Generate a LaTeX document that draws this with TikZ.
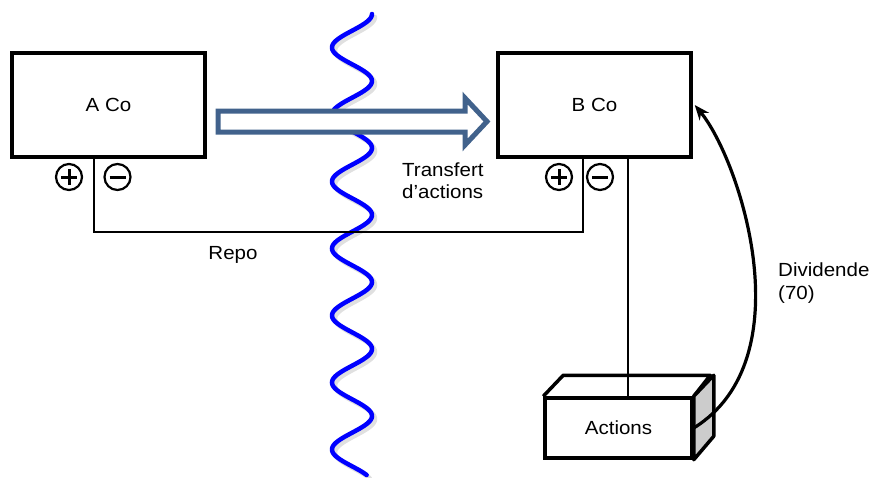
\documentclass[tikz,border=0pt]{standalone}
\usepackage{fontspec}
\setmainfont{Liberation Sans}[FakeStretch=1.08]
\usetikzlibrary{arrows.meta}
\definecolor{arrowblue}{RGB}{65,98,140}
\begin{document}
\begin{tikzpicture}[x=1pt,y=-1pt,
  font=\fontsize{19}{22}\selectfont,
  box/.style={draw, line width=3.5pt, minimum width=193pt, minimum height=104pt, inner sep=0pt},
  pm/.style={draw, circle, line width=2.2pt, minimum size=26pt, inner sep=0pt},
  sign/.style={line width=3pt},
  conn/.style={line width=2.2pt},
  lbl/.style={inner sep=0pt, anchor=base west}]
\useasboundingbox (0,0) rectangle (870,477);
% wave
\draw[black!12, line width=4.5pt, line cap=round] plot[domain=14:475, samples=300] ({355+20*cos((\x-14)/67*360)}, {\x+3});
\draw[blue, line width=4.5pt, line cap=round] plot[domain=14:475, samples=300] ({352+20*cos((\x-14)/67*360)}, \x);
% boxes
\node[box] (A) at (108.5,105) {A Co};
\node[box] (B) at (594.5,105) {B Co};
% block arrow
\draw[draw=arrowblue, line width=5pt, fill=white, miter limit=10] (218,111) -- (465,111) -- (465,98) -- (487,121.5) -- (465,145) -- (465,132) -- (218,132) -- cycle;
% plus / minus
\node[pm] (pa) at (69,177) {};
\node[pm] (ma) at (117.5,177) {};
\node[pm] (pb) at (559,177) {};
\node[pm] (mb) at (600,177) {};
\foreach \n in {pa,pb}{
  \draw[sign] ([xshift=-8pt]\n.center) -- ([xshift=8pt]\n.center);
  \draw[sign] ([yshift=-8pt]\n.center) -- ([yshift=8pt]\n.center);
}
\foreach \n in {ma,mb}{
  \draw[sign] ([xshift=-8pt]\n.center) -- ([xshift=8pt]\n.center);
}
% repo line
\draw[conn] (A.south -| 94,0) -- (94,232) -| (B.south -| 583,0);
% actions cuboid
\node[draw, line width=3.5pt, minimum width=147pt, minimum height=60pt, inner sep=0pt, fill=white] (act) at (618.5,428) {Actions};
\draw[line width=3.5pt, line join=round] (act.north west) -- ++(20,-21) -- ++(147,0) -- (act.north east);
\draw[line width=3.5pt, line join=round, fill=black!20] (act.north east) -- ++(20,-21) -- ++(0,61) -- (act.south east) -- cycle;
\draw[conn] (B.south -| 628,0) -- (act.north -| 628,0);
% dividend arrow
\draw[line width=3.2pt, -{Stealth[length=15pt,width=12pt]}] (act.east) .. controls (805,359) and (740,160) .. ([xshift=2pt]B.east);
% labels
\node[lbl] (tr1) at (402,176) {Transfert};
\node[lbl] (tr2) at (402,198) {d’actions};
\node (repo) at (233,255) {Repo};
\node[lbl] (dv1) at (778,276) {Dividende};
\node[lbl] (dv2) at (778,299) {(70)};
\end{tikzpicture}
\end{document}
